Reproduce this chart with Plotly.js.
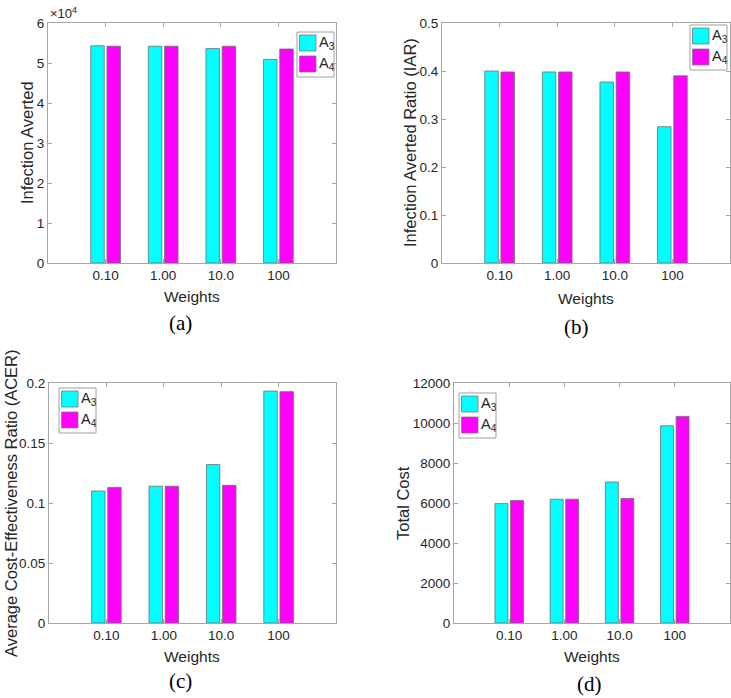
<!DOCTYPE html>
<html>
<head>
<meta charset="utf-8">
<script src="https://cdn.plot.ly/plotly-3.0.1.min.js"></script>
<style>
  html, body { margin: 0; padding: 0; background: #fff; }
  #myDiv { width: 731px; height: 698px; }
</style>
</head>
<body>
<div id="myDiv"></div>
<script>
// categories (weights)
var weights = ["0.10", "1.00", "10.0", "100"];

// (a) infection averted
var avertedA3 = [54300, 54200, 53600, 50900];
var avertedA4 = [54200, 54200, 54200, 53500];

// (b) infection averted ratio
var iarA3 = [0.400, 0.398, 0.377, 0.284];
var iarA4 = [0.398, 0.398, 0.398, 0.390];

// (c) average cost-effectiveness ratio
var acerA3 = [0.110, 0.114, 0.132, 0.1933];
var acerA4 = [0.113, 0.114, 0.1147, 0.1928];

// (d) total cost
var costA3 = [5970, 6190, 7050, 9860];
var costA4 = [6130, 6190, 6220, 10330];

var W = 731, H = 698;
function px(x) { return x / W; }
function py(y) { return 1 - y / H; }

var cyan = "#00ffff";
var magenta = "#ff00ff";
var edge = { color: "#6e6e6e", width: 0.8 };

function bars(y, color, name, xa, ya) {
  return {
    x: weights, y: y, type: "bar", name: name,
    xaxis: xa, yaxis: ya,
    marker: { color: color, line: edge },
    showlegend: false, hoverinfo: "y",
  };
}

var data = [
  bars(avertedA3, cyan, "A3", "x", "y"),
  bars(avertedA4, magenta, "A4", "x", "y"),
  bars(iarA3, cyan, "A3", "x2", "y2"),
  bars(iarA4, magenta, "A4", "x2", "y2"),
  bars(acerA3, cyan, "A3", "x3", "y3"),
  bars(acerA4, magenta, "A4", "x3", "y3"),
  bars(costA3, cyan, "A3", "x4", "y4"),
  bars(costA4, magenta, "A4", "x4", "y4"),
];

var axisColor = "#a6a6a6";
var tickFont = { family: "Liberation Sans, Arial, sans-serif", size: 13.5, color: "#262626" };

function xax(l, r, anchor) {
  return {
    domain: [px(l), px(r)], anchor: anchor, type: "category", range: [-1, 4],
    showline: true, linecolor: axisColor, linewidth: 1, mirror: "ticks",
    ticks: "inside", ticklen: 4, tickcolor: axisColor,
    showgrid: false, zeroline: false, tickfont: tickFont, fixedrange: true,
  };
}
function yax(t, b, anchor, extra) {
  var a = {
    domain: [py(b), py(t)], anchor: anchor,
    showline: true, linecolor: axisColor, linewidth: 1, mirror: "ticks",
    ticks: "inside", ticklen: 4, tickcolor: axisColor,
    showgrid: false, zeroline: false, tickfont: tickFont, fixedrange: true,
  };
  for (var k in extra) a[k] = extra[k];
  return a;
}

var shapes = [];
var annotations = [];

// legend drawn by hand so the swatches match the original size
function legendBox(x0, y0) {
  shapes.push({ type: "rect", xref: "paper", yref: "paper",
    x0: px(x0), x1: px(x0 + 37), y0: py(y0 + 45), y1: py(y0),
    line: { color: "#a0a0a0", width: 1 }, fillcolor: "#ffffff", layer: "above" });
  [[cyan, "A<sub>3</sub>", 3], [magenta, "A<sub>4</sub>", 24]].forEach(function (e) {
    shapes.push({ type: "rect", xref: "paper", yref: "paper",
      x0: px(x0 + 2.5), x1: px(x0 + 19), y0: py(y0 + e[2] + 16), y1: py(y0 + e[2]),
      line: { color: "#7a7a7a", width: 0.8 }, fillcolor: e[0], layer: "above" });
    annotations.push({ xref: "paper", yref: "paper", x: px(x0 + 19.5), y: py(y0 + e[2] + 8),
      xanchor: "left", yanchor: "middle", text: e[1], showarrow: false,
      font: { family: "Liberation Sans, Arial, sans-serif", size: 14.5, color: "#262626" } });
  });
}
legendBox(297, 32);
legendBox(690, 25);
legendBox(59, 388);
legendBox(459, 393);

var titleFont = { family: "Liberation Sans, Arial, sans-serif", size: 15.5, color: "#262626" };
var yTitleFont = { family: "Liberation Sans, Arial, sans-serif", size: 16.5, color: "#262626" };
var capFont = { family: "Liberation Serif, Times New Roman, serif", size: 21, color: "#000000" };

function label(x, y, text, font, angle) {
  annotations.push({ xref: "paper", yref: "paper", x: px(x), y: py(y),
    xanchor: "center", yanchor: "middle", text: text, showarrow: false,
    textangle: angle || 0, font: font });
}

// axis titles
label(27, 143, "Infection Averted", yTitleFont, -90);
label(410, 143, "Infection Averted Ratio (IAR)", yTitleFont, -90);
label(11, 503, "Average Cost-Effectiveness Ratio (ACER)", yTitleFont, -90);
label(403, 503, "Total Cost", yTitleFont, -90);
label(192, 297, "Weights", titleFont);
label(586, 298, "Weights", titleFont);
label(192, 656, "Weights", titleFont);
label(592, 656, "Weights", titleFont);

// panel captions
label(180, 323, "(a)", capFont);
label(576, 327, "(b)", capFont);
label(180, 681, "(c)", capFont);
label(589, 684, "(d)", capFont);

// exponent of panel (a)
annotations.push({ xref: "paper", yref: "paper", x: px(48), y: py(13),
  xanchor: "left", yanchor: "middle", text: "×10<sup>4</sup>", showarrow: false,
  font: { family: "Liberation Sans, Arial, sans-serif", size: 13, color: "#262626" } });

var layout = {
  width: W, height: H,
  margin: { l: 0, r: 0, t: 0, b: 0 },
  paper_bgcolor: "#ffffff", plot_bgcolor: "#ffffff",
  barmode: "group", bargap: 0.437, bargroupgap: 0.167,
  showlegend: false,
  font: { family: "Liberation Sans, Arial, sans-serif" },
  xaxis: xax(48, 336, "y"),
  yaxis: yax(23, 263, "x", { range: [0, 60000], tickvals: [0, 10000, 20000, 30000, 40000, 50000, 60000],
    ticktext: ["0", "1", "2", "3", "4", "5", "6"] }),
  xaxis2: xax(442, 730, "y2"),
  yaxis2: yax(23, 263, "x2", { range: [0, 0.5], dtick: 0.1 }),
  xaxis3: xax(49, 336, "y3"),
  yaxis3: yax(383, 623, "x3", { range: [0, 0.2], dtick: 0.05 }),
  xaxis4: xax(454, 730, "y4"),
  yaxis4: yax(383, 623, "x4", { range: [0, 12000], dtick: 2000, tickformat: "d" }),
  shapes: shapes,
  annotations: annotations,
};

var config = { displayModeBar: false, staticPlot: true };

Plotly.newPlot("myDiv", data, layout, config);
</script>
</body>
</html>
